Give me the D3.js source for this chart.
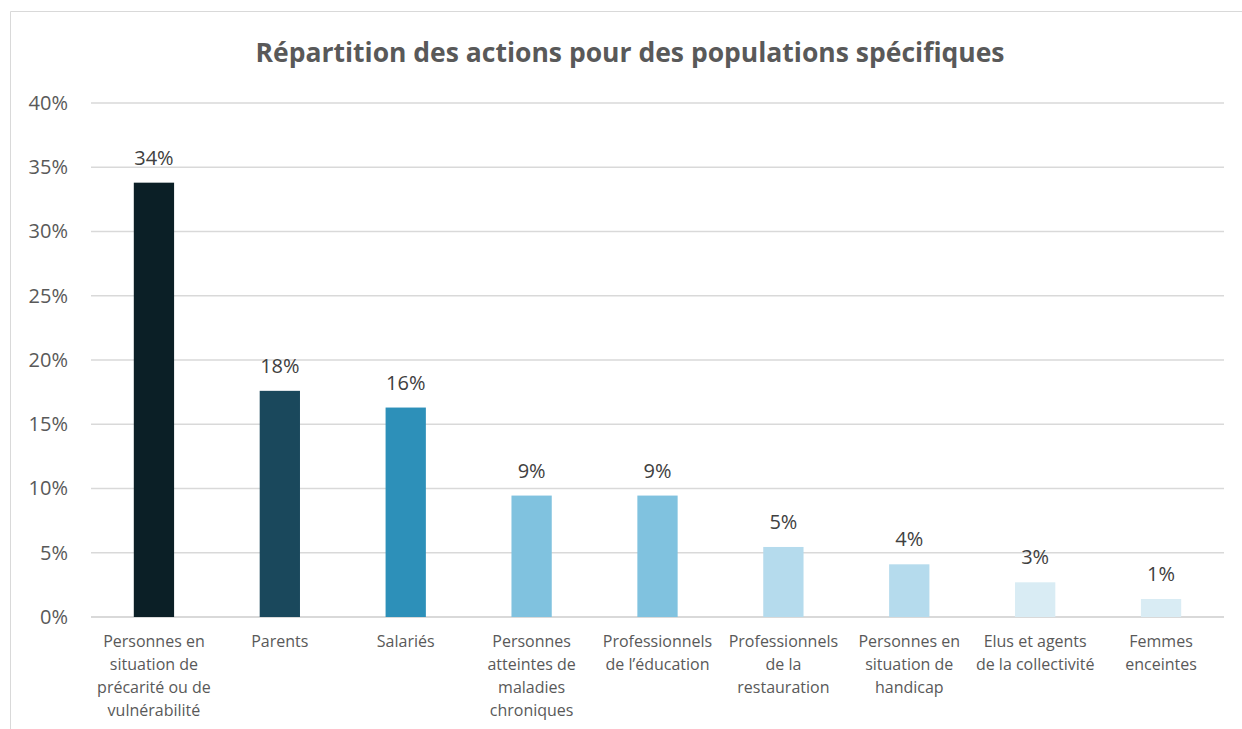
<!DOCTYPE html>
<html>
<head>
<meta charset="utf-8">
<script src="https://cdn.jsdelivr.net/npm/d3@7"></script>
<style>
  body { margin: 0; background: #fff; }
  svg { display: block; font-family: "Open Sans", Lato, sans-serif; }
</style>
</head>
<body>
<div id="chart"></div>
<script>
// Data
const categories = [
  "Personnes en|situation de|précarité ou de|vulnérabilité",
  "Parents",
  "Salariés",
  "Personnes|atteintes de|maladies|chroniques",
  "Professionnels|de l’éducation",
  "Professionnels|de la|restauration",
  "Personnes en|situation de|handicap",
  "Elus et agents|de la collectivité",
  "Femmes|enceintes"
];
const values = [33.8, 17.6, 16.3, 9.45, 9.45, 5.45, 4.1, 2.7, 1.4];
const barColors = ["#0b1f26", "#1a485c", "#2d90b9", "#80c2df", "#80c2df", "#b5dbed", "#b5dbed", "#d9ecf4", "#d9ecf4"];
const yTicks = [0, 5, 10, 15, 20, 25, 30, 35, 40];
const title = "Répartition des actions pour des populations spécifiques";

const W = 1242, H = 729;
const margin = { left: 91, right: 18, top: 103, bottom: 112 };

const svg = d3.select("#chart")
  .append("svg")
  .attr("width", W)
  .attr("height", H);

// chart border (cut at the right and bottom edges)
svg.append("path")
  .attr("d", `M10.5,${H} V11.5 H${W}`)
  .attr("fill", "none")
  .attr("stroke", "#d9d9d9")
  .attr("stroke-width", 1);

svg.append("text")
  .attr("x", 630)
  .attr("y", 62)
  .attr("text-anchor", "middle")
  .attr("font-size", "26.5px")
  .attr("font-weight", "bold")
  .attr("fill", "#595959")
  .text(title);

const x = d3.scaleBand()
  .domain(categories)
  .range([margin.left, W - margin.right])
  .paddingInner(0.68)
  .paddingOuter(0.34);

const y = d3.scaleLinear()
  .domain([0, 40])
  .range([H - margin.bottom, margin.top]);

// gridlines
svg.append("g")
  .selectAll("line")
  .data(yTicks)
  .enter()
  .append("line")
  .attr("x1", margin.left)
  .attr("x2", W - margin.right)
  .attr("y1", d => y(d))
  .attr("y2", d => y(d))
  .attr("stroke", "#d9d9d9")
  .attr("stroke-width", d => d === 0 ? 2 : 1.5);

// y axis labels
const yAxis = svg.append("g")
  .attr("transform", `translate(${margin.left - 23},0)`)
  .call(d3.axisLeft(y).tickValues(yTicks).tickSize(0).tickPadding(0).tickFormat(d => d + "%"));
yAxis.select(".domain").remove();
yAxis.selectAll("text")
  .attr("font-family", "'Open Sans', Lato, sans-serif")
  .attr("font-size", "20px")
  .attr("fill", "#595959");

// bars
svg.append("g")
  .selectAll("rect")
  .data(values)
  .enter()
  .append("rect")
  .attr("x", (d, i) => x(categories[i]))
  .attr("width", x.bandwidth())
  .attr("y", d => y(d))
  .attr("height", d => y(0) - y(d))
  .attr("fill", (d, i) => barColors[i]);

// value labels
svg.append("g")
  .selectAll("text")
  .data(values)
  .enter()
  .append("text")
  .attr("x", (d, i) => x(categories[i]) + x.bandwidth() / 2)
  .attr("y", d => y(d) - 18)
  .attr("text-anchor", "middle")
  .attr("font-size", "20px")
  .attr("fill", "#404040")
  .text(d => Math.round(d) + "%");

// category labels
const catGroup = svg.append("g");
categories.forEach((c, i) => {
  const t = catGroup.append("text")
    .attr("x", x(c) + x.bandwidth() / 2)
    .attr("y", y(0) + 30)
    .attr("text-anchor", "middle")
    .attr("font-size", "16px")
    .attr("fill", "#595959");
  c.split("|").forEach((line, j) => {
    t.append("tspan")
      .attr("x", x(c) + x.bandwidth() / 2)
      .attr("dy", j === 0 ? 0 : 23)
      .text(line);
  });
});
</script>
</body>
</html>
